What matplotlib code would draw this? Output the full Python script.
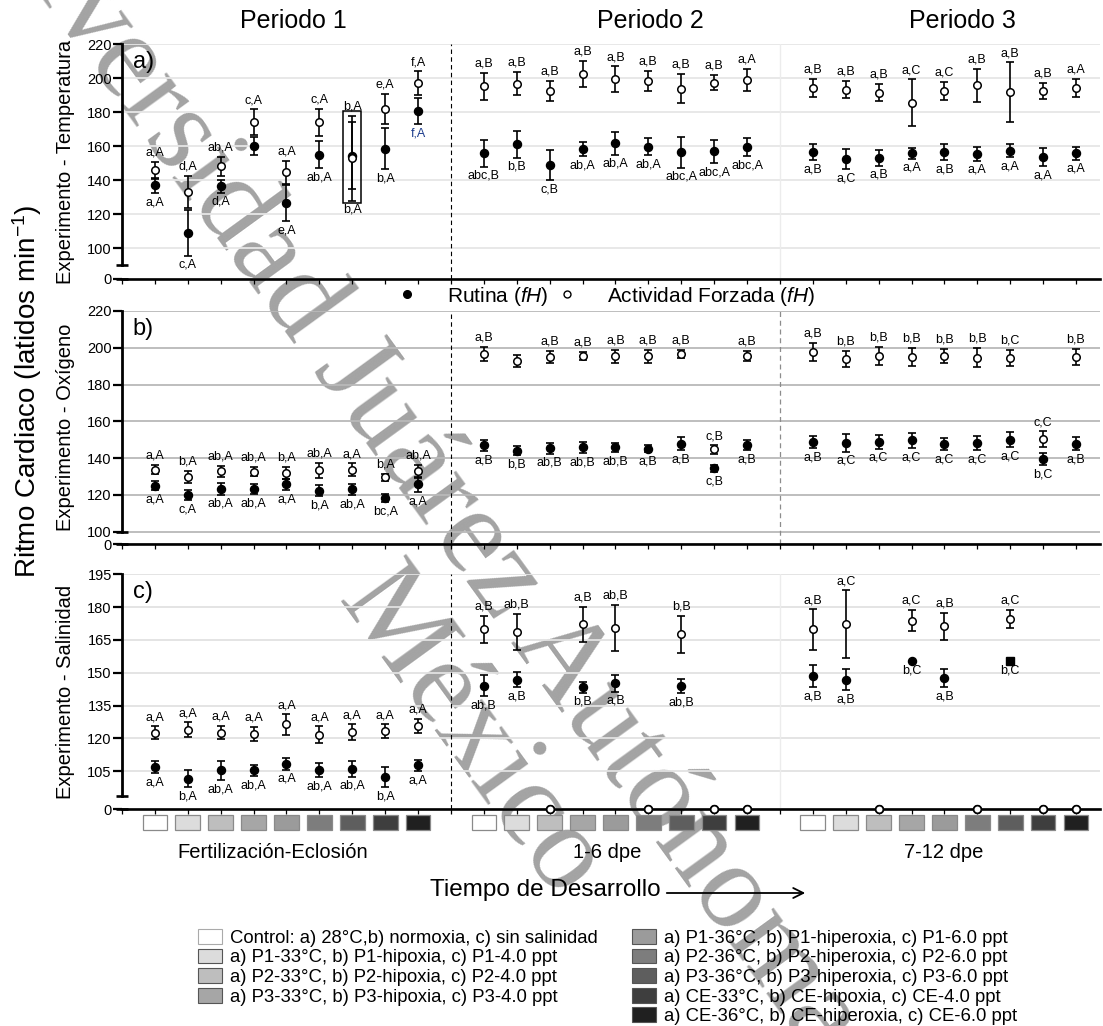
import numpy as np
import matplotlib
matplotlib.use("Agg")
import matplotlib.pyplot as plt
import matplotlib.transforms as mtransforms
from matplotlib.patches import Rectangle, Patch, FancyArrowPatch
from matplotlib.lines import Line2D

plt.rcParams['font.family'] = ['Liberation Sans', 'DejaVu Sans']
plt.rcParams['mathtext.fontset'] = 'custom'
plt.rcParams['mathtext.it'] = 'Liberation Sans:italic'
plt.rcParams['mathtext.rm'] = 'Liberation Sans'

# ---------------- data ----------------
positions = [1, 2, 3, 4, 5, 6, 7, 8, 9,
             11, 12, 13, 14, 15, 16, 17, 18, 19,
             21, 22, 23, 24, 25, 26, 27, 28, 29]

# a) Temperatura
a_open = [145.7, 133.0, 148.2, 174.1, 144.7, 174.1, 153.0, 181.9, 197.0,
          195.3, 196.9, 192.5, 202.7, 199.4, 198.6, 193.9, 197.4, 199.2,
          194.3, 193.3, 191.6, 185.7, 192.5, 195.9, 191.8, 192.5, 194.3]
a_open_err = [5.0, 9.4, 5.7, 7.6, 6.8, 8.0, 25.0, 8.8, 7.0,
              8.0, 6.7, 6.0, 7.7, 7.7, 5.9, 8.5, 4.5, 6.5,
              5.3, 5.0, 5.0, 13.7, 5.2, 9.6, 17.5, 4.8, 5.5]
a_fill = [137.0, 109.0, 136.3, 160.2, 126.6, 155.1, 154.5, 158.6, 180.6,
          155.7, 161.0, 148.8, 158.4, 161.6, 159.8, 156.3, 156.9, 159.6,
          156.5, 152.5, 153.3, 155.9, 156.5, 155.5, 157.3, 153.7, 155.7]
a_fill_err = [4.5, 13.5, 3.7, 5.3, 10.8, 8.0, 19.5, 12.3, 7.5,
              7.8, 7.7, 8.8, 4.2, 6.5, 5.2, 9.0, 7.0, 5.3,
              4.7, 5.9, 4.7, 3.2, 4.7, 4.1, 3.9, 5.5, 3.6]
a_open_lab = ['a,A', 'd,A', 'ab,A', 'c,A', 'a,A', 'c,A', 'b,A', 'e,A', 'f,A',
              'a,B', 'a,B', 'a,B', 'a,B', 'a,B', 'a,B', 'a,B', 'a,B', 'a,A',
              'a,B', 'a,B', 'a,B', 'a,C', 'a,C', 'a,B', 'a,B', 'a,B', 'a,A']
a_fill_lab = ['a,A', 'c,A', 'd,A', '', 'e,A', 'ab,A', 'b,A', 'b,A', 'f,A',
              'abc,B', 'b,B', 'c,B', 'ab,A', 'ab,A', 'ab,A', 'abc,A', 'abc,A', 'abc,A',
              'a,B', 'a,C', 'a,B', 'a,A', 'a,B', 'a,A', 'a,A', 'a,A', 'a,A']

# b) Oxigeno
b_open = [133.8, 129.7, 132.9, 132.6, 131.8, 133.3, 133.7, 129.5, 132.9,
          196.7, 192.8, 195.1, 195.5, 195.3, 195.3, 196.7, 144.7, 195.5,
          197.8, 194.0, 195.5, 194.9, 195.5, 194.7, 194.4, 150.4, 195.1]
b_open_err = [2.6, 3.4, 2.9, 2.5, 3.3, 4.1, 3.4, 2.1, 3.5,
              3.8, 3.3, 3.4, 2.4, 3.5, 3.6, 2.3, 2.2, 2.7,
              5.0, 4.5, 5.0, 5.0, 3.9, 5.4, 4.4, 4.1, 4.3]
b_fill = [125.0, 119.9, 123.3, 123.3, 125.7, 122.4, 123.0, 118.2, 125.7,
          146.9, 144.0, 145.3, 145.8, 145.8, 145.1, 147.8, 134.4, 147.1,
          148.6, 148.3, 148.8, 149.7, 147.8, 148.3, 150.1, 139.4, 147.8]
b_fill_err = [2.5, 2.8, 3.1, 2.7, 3.0, 3.2, 3.0, 2.2, 4.2,
              3.1, 2.5, 2.9, 3.0, 2.6, 1.9, 3.6, 1.9, 2.9,
              3.2, 4.7, 3.7, 4.1, 3.4, 3.8, 4.1, 3.2, 3.5]
b_open_lab = ['a,A', 'b,A', 'ab,A', 'ab,A', 'b,A', 'ab,A', 'a,A', 'b,A', 'ab,A',
              'a,B', '', 'a,B', 'a,B', 'a,B', 'a,B', 'a,B', 'c,B', 'a,B',
              'a,B', 'b,B', 'b,B', 'b,B', 'b,B', 'b,B', 'b,C', 'c,C', 'b,B']
b_fill_lab = ['a,A', 'c,A', 'ab,A', 'ab,A', 'a,A', 'b,A', 'ab,A', 'bc,A', 'a,A',
              'a,B', 'b,B', 'ab,B', 'ab,B', 'ab,B', 'a,B', 'a,B', 'c,B', 'a,B',
              'a,B', 'a,C', 'a,C', 'a,C', 'a,C', 'a,C', 'a,C', 'b,C', 'a,B']

# c) Salinidad (0 = sin datos)
c_open = [122.7, 124.0, 122.7, 122.1, 126.4, 121.7, 122.9, 123.4, 125.8,
          169.8, 168.8, 0, 172.1, 170.4, 0, 167.5, 0, 0,
          169.8, 172.2, 0, 173.8, 171.3, 0, 174.7, 0, 0]
c_open_err = [2.9, 3.3, 3.0, 3.3, 4.6, 3.9, 3.6, 3.1, 3.2,
              6.3, 8.2, 0, 8.0, 10.6, 0, 8.5, 0, 0,
              9.2, 15.5, 0, 4.9, 6.2, 0, 4.2, 0, 0]
c_fill = [106.8, 101.6, 105.4, 105.5, 108.3, 105.5, 106.1, 102.3, 107.7,
          144.0, 146.9, 0, 143.4, 145.3, 0, 144.0, 0, 0,
          148.4, 146.9, 0, 155.4, 147.6, 0, 155.4, 0, 0]
c_fill_err = [2.7, 3.9, 4.3, 2.6, 2.6, 3.3, 3.5, 4.5, 2.5,
              4.8, 3.4, 0, 2.4, 3.9, 0, 3.2, 0, 0,
              5.0, 4.9, 0, 0, 4.2, 0, 0, 0, 0]
c_open_lab = ['a,A', 'a,A', 'a,A', 'a,A', 'a,A', 'a,A', 'a,A', 'a,A', 'a,A',
              'a,B', 'ab,B', '', 'a,B', 'ab,B', '', 'b,B', '', '',
              'a,B', 'a,C', '', 'a,C', 'a,B', '', 'a,C', '', '']
c_fill_lab = ['a,A', 'b,A', 'ab,A', 'ab,A', 'a,A', 'ab,A', 'ab,A', 'b,A', 'a,A',
              'ab,B', 'a,B', '', 'b,B', 'a,B', '', 'ab,B', '', '',
              'a,B', 'a,B', '', 'b,C', 'a,B', '', 'b,C', '', '']

treatment_colors = ['#ffffff', '#dcdcdc', '#bebebe', '#a6a6a6', '#9b9b9b',
                    '#7d7d7d', '#5e5e5e', '#3e3e3e', '#202020']
treatment_labels = ['Control: a) 28°C,b) normoxia, c) sin salinidad',
                    'a) P1-33°C, b) P1-hipoxia, c) P1-4.0 ppt',
                    'a) P2-33°C, b) P2-hipoxia, c) P2-4.0 ppt',
                    'a) P3-33°C, b) P3-hipoxia, c) P3-4.0 ppt',
                    'a) P1-36°C, b) P1-hiperoxia, c) P1-6.0 ppt',
                    'a) P2-36°C, b) P2-hiperoxia, c) P2-6.0 ppt',
                    'a) P3-36°C, b) P3-hiperoxia, c) P3-6.0 ppt',
                    'a) CE-33°C, b) CE-hipoxia, c) CE-4.0 ppt',
                    'a) CE-36°C, b) CE-hiperoxia, c) CE-6.0 ppt']
period_titles = ['Periodo 1', 'Periodo 2', 'Periodo 3']
stage_labels = ['Fertilización-Eclosión', '1-6 dpe', '7-12 dpe']
watermark_lines = ['Universidad Juárez Autónoma', 'México']

# ---------------- layout / style ----------------
W, H = 1103, 1026
fig = plt.figure(figsize=(W / 100, H / 100), dpi=100)
X_LEFT, X_RIGHT = 122, 1100
XMAX = 29.73

def fx(px):
    return px / W

def fy(py):
    return 1 - py / H

def make_scale(zero_at, brk):
    def fwd(v):
        v = np.asarray(v, dtype=float)
        return np.where(v >= brk, v, zero_at + v * (brk - zero_at) / brk)

    def inv(u):
        u = np.asarray(u, dtype=float)
        return np.where(u >= brk, u, (u - zero_at) * brk / (brk - zero_at))
    return fwd, inv

# watermark (behind everything)
for txt, (sx, sy) in zip(watermark_lines, [(-57, -139), (336, 600)]):
    fig.text(fx(sx), fy(sy), txt, rotation=-54, rotation_mode='anchor',
             ha='left', va='baseline', fontsize=88, family='Liberation Serif',
             color='#a3a3a3', zorder=-5)

panels = [
    dict(top=44.3, bottom=279.0, zero=81.8, brk=90, ymax=220,
         ticks=[0, 100, 120, 140, 160, 180, 200, 220], grid='#e6e6e6',
         letter='a)', ylabel='Experimento - Temperatura',
         data=(a_open, a_open_err, a_fill, a_fill_err, a_open_lab, a_fill_lab),
         div2=dict(color='#ececec', ls='-', lw=1.0)),
    dict(top=311.0, bottom=544.3, zero=93.15, brk=100, ymax=220,
         ticks=[0, 100, 120, 140, 160, 180, 200, 220], grid='#b9b9b9',
         letter='b)', ylabel='Experimento - Oxígeno',
         data=(b_open, b_open_err, b_fill, b_fill_err, b_open_lab, b_fill_lab),
         div2=dict(color='#8c8c8c', ls=(0, (4, 3)), lw=0.9)),
    dict(top=574.3, bottom=809.3, zero=87.64, brk=93.85, ymax=195,
         ticks=[0, 105, 120, 135, 150, 165, 180, 195], grid='#e2e2e2',
         letter='c)', ylabel='Experimento - Salinidad',
         data=(c_open, c_open_err, c_fill, c_fill_err, c_open_lab, c_fill_lab),
         div2=dict(color='#ececec', ls='-', lw=1.0)),
]

axes = []
x = np.array(positions, dtype=float)
for pi, P in enumerate(panels):
    ax = fig.add_axes([fx(X_LEFT), fy(P['bottom']), (X_RIGHT - X_LEFT) / W,
                       (P['bottom'] - P['top']) / H])
    ax.patch.set_alpha(0)
    axes.append(ax)
    ax.set_xlim(0, XMAX)
    ax.set_yscale('function', functions=make_scale(P['zero'], P['brk']))
    ax.set_ylim(0, P['ymax'])
    ax.set_yticks(P['ticks'])
    ax.set_yticks([0, P['brk']], minor=True)
    ax.yaxis.remove_overlapping_locs = False
    ax.yaxis.set_minor_formatter(plt.NullFormatter())
    ax.tick_params(axis='y', which='major', direction='out', length=6.3,
                   width=1.6, labelsize=10.5, pad=1)
    ax.tick_params(axis='y', which='minor', direction='inout', length=9,
                   width=1.9)
    ax.set_xticks(np.arange(0, 30))
    ax.set_xticklabels([])
    ax.tick_params(axis='x', which='major', direction='out', length=3.4,
                   width=0.9)
    ax.tick_params(axis='x', which='minor', bottom=False)
    for s in ('top', 'right'):
        ax.spines[s].set_visible(False)
    ax.spines['left'].set_linewidth(2.0)
    ax.spines['left'].set_bounds(P['brk'], P['ymax'])
    ax.spines['bottom'].set_linewidth(1.9)
    ax.yaxis.grid(True, which='major', color=P['grid'], lw=1.3)
    ax.set_axisbelow(True)
    ax.axvline(10, color='black', lw=0.8, ls=(0, (4, 3)), zorder=1)
    ax.axvline(20, zorder=1, **P['div2'])

    ax.set_ylabel(P['ylabel'], fontsize=14.5)
    ax.yaxis.set_label_coords(-0.048, 0.5)
    ax.text(0.011, (P['bottom'] - (P['top'] + (62 - 44.3))) / (P['bottom'] - P['top']),
            P['letter'], transform=ax.transAxes, fontsize=17, va='center', ha='left')

    o, oe, f, fe, olab, flab = P['data']
    o = np.asarray(o, float); oe = np.asarray(oe, float)
    f = np.asarray(f, float); fe = np.asarray(fe, float)

    ax.errorbar(x, f, yerr=fe, fmt='none', ecolor='black', elinewidth=1.2,
                capsize=3.2, capthick=1.2, zorder=3, clip_on=False)
    ax.errorbar(x, o, yerr=oe, fmt='none', ecolor='black', elinewidth=1.2,
                capsize=3.2, capthick=1.2, zorder=3, clip_on=False)
    is_sq = np.zeros(len(x), bool)
    if pi == 2:
        is_sq[positions.index(27)] = True
    ax.plot(x[~is_sq], f[~is_sq], ls='none', marker='o', ms=5.8, mfc='black',
            mec='black', zorder=4, clip_on=False)
    ax.plot(x[is_sq], f[is_sq], ls='none', marker='s', ms=5.5, mfc='black',
            mec='black', zorder=4, clip_on=False)
    ax.plot(x, o, ls='none', marker='o', ms=5.4, mfc='white', mec='black',
            mew=1.1, zorder=5, clip_on=False)

    hi = np.maximum(o + oe, f + fe)
    lo = np.minimum(o - oe, f - fe)
    for i in range(len(x)):
        if olab[i]:
            ax.annotate(olab[i], (x[i], hi[i]), xytext=(0, 2.3),
                        textcoords='offset points', ha='center', va='bottom',
                        fontsize=9, annotation_clip=False)
        if flab[i]:
            col = '#1c3c8c' if (pi == 0 and positions[i] == 9) else 'black'
            ax.annotate(flab[i], (x[i], lo[i]), xytext=(0, -2.3),
                        textcoords='offset points', ha='center', va='top',
                        fontsize=9, color=col, annotation_clip=False)

    if pi == 0:
        k = positions.index(7)
        ax.add_patch(Rectangle((x[k] - 0.275, lo[k] - 1.5), 0.55,
                               hi[k] - lo[k] + 4.5, fill=False, ec='black',
                               lw=1.1, zorder=3))

# treatment boxes under panel c
axc = axes[2]
trans = mtransforms.blended_transform_factory(axc.transData, fig.transFigure)
for j, p in enumerate(positions):
    col = treatment_colors[j % 9]
    axc.add_patch(Rectangle((p - 0.375, fy(830)), 0.75, 15 / H, transform=trans,
                            fc=col, ec='#8a8a8a', lw=0.9, clip_on=False))

# titles and texts
for t, px in zip(period_titles, [293.5, 650, 962]):
    fig.text(fx(px), fy(21), t, ha='center', va='center', fontsize=18)
for t, px in zip(stage_labels, [273, 607, 944]):
    fig.text(fx(px), fy(853), t, ha='center', va='center', fontsize=14.5)
fig.text(fx(27), fy(391), 'Ritmo Cardiaco (latidos min$^{-1}$)', rotation=90,
         ha='center', va='center', fontsize=20)
fig.text(fx(430), fy(890), 'Tiempo de Desarrollo', ha='left', va='center',
         fontsize=17.5)
fig.add_artist(FancyArrowPatch((fx(664), fy(893)), (fx(808), fy(893)),
                               transform=fig.transFigure, arrowstyle='->',
                               mutation_scale=18, lw=1.3, color='black'))

# series legend
h_fill = Line2D([], [], ls='none', marker='o', ms=5.5, mfc='black', mec='black')
h_open = Line2D([], [], ls='none', marker='o', ms=5, mfc='white', mec='black', mew=1)
fig.legend([h_fill, h_open], ['Rutina ($\\mathit{fH}$)', 'Actividad Forzada ($\\mathit{fH}$)'],
           ncol=2, loc='center left', bbox_to_anchor=(fx(397), fy(296)),
           frameon=False, fontsize=15, handlelength=1.0, handletextpad=1.4,
           columnspacing=0.4, borderpad=0, borderaxespad=0)

# treatment legends
def tpatch(c):
    return Patch(fc=c, ec='#aaaaaa' if c == '#ffffff' else '#555555', lw=0.8)

fig.legend([tpatch(c) for c in treatment_colors[:4]], treatment_labels[:4],
           loc='upper left', bbox_to_anchor=(fx(198), fy(929)), frameon=False,
           fontsize=13.3, handlelength=1.3, handleheight=0.85, handletextpad=0.45,
           labelspacing=0.1, borderpad=0, borderaxespad=0)
fig.legend([tpatch(c) for c in treatment_colors[4:]], treatment_labels[4:],
           loc='upper left', bbox_to_anchor=(fx(632), fy(929)), frameon=False,
           fontsize=13.3, handlelength=1.3, handleheight=0.85, handletextpad=0.45,
           labelspacing=0.1, borderpad=0, borderaxespad=0)

fig.savefig('out.png', dpi=100)
